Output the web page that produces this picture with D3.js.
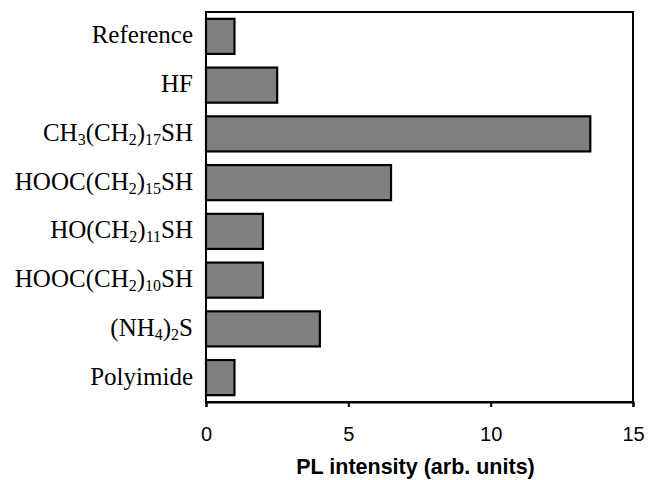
<!DOCTYPE html>
<html>
<head>
<meta charset="utf-8">
<script src="https://cdn.jsdelivr.net/npm/d3@7"></script>
<style>
  html, body { margin: 0; padding: 0; background: #fff; }
  svg { display: block; }
</style>
</head>
<body>
<div id="chart"></div>
<script>
// Categories (underscore + digits marks a subscript)
const categories = ["Reference", "HF", "CH_3(CH_2)_17SH", "HOOC(CH_2)_15SH", "HO(CH_2)_11SH", "HOOC(CH_2)_10SH", "(NH_4)_2S", "Polyimide"];
const values = [1, 2.5, 13.5, 6.5, 2, 2, 4, 1];
const xTicks = [0, 5, 10, 15];
const xTitle = "PL intensity (arb. units)";

const W = 649, H = 480;
const margin = { left: 206, right: 16, top: 12, bottom: 78 };
const iw = W - margin.left - margin.right;
const ih = H - margin.top - margin.bottom;

const svg = d3.select("#chart").append("svg").attr("width", W).attr("height", H);
const g = svg.append("g").attr("transform", `translate(${margin.left},${margin.top})`);

const x = d3.scaleLinear().domain([0, 15]).range([0, iw]);
const y = d3.scaleBand().domain(categories).range([0, ih]).paddingInner(0.28).paddingOuter(0.14);

// bars
g.selectAll("rect.bar").data(categories).enter().append("rect")
  .attr("class", "bar")
  .attr("x", x(0))
  .attr("y", d => y(d))
  .attr("width", (d, i) => x(values[i]) - x(0))
  .attr("height", y.bandwidth())
  .attr("fill", "#808080")
  .attr("stroke", "#000")
  .attr("stroke-width", 2.2);

// frame
g.append("rect").attr("x", 0).attr("y", 0).attr("width", iw).attr("height", ih)
  .attr("fill", "none").attr("stroke", "#000").attr("stroke-width", 2);

// x axis
const xAxis = g.append("g").attr("transform", `translate(0,${ih})`)
  .call(d3.axisBottom(x).tickValues(xTicks).tickSize(5).tickPadding(20).tickFormat(d3.format("d")));
xAxis.select(".domain").attr("stroke-width", 2);
xAxis.selectAll(".tick line").attr("stroke-width", 2);
xAxis.selectAll(".tick text").attr("font-family", "'Liberation Sans', Arial, sans-serif")
  .attr("font-size", 20).attr("fill", "#000");

// y labels with subscripts
function parse(s) {
  const parts = [];
  const re = /_(\d+)/g;
  let last = 0, m;
  while ((m = re.exec(s)) !== null) {
    if (m.index > last) parts.push({ t: s.slice(last, m.index), sub: false });
    parts.push({ t: m[1], sub: true });
    last = re.lastIndex;
  }
  if (last < s.length) parts.push({ t: s.slice(last), sub: false });
  return parts;
}
const SUB = 4;
const labels = g.selectAll("text.cat").data(categories).enter().append("text")
  .attr("class", "cat")
  .attr("x", -13)
  .attr("y", d => y(d) + y.bandwidth() / 2 + 7)
  .attr("text-anchor", "end")
  .attr("font-family", "'Liberation Serif', 'Times New Roman', serif")
  .attr("font-size", 25)
  .attr("fill", "#000");
labels.each(function (d) {
  const t = d3.select(this);
  let shift = 0;
  parse(d).forEach(p => {
    const target = p.sub ? SUB : 0;
    const ts = t.append("tspan").text(p.t);
    if (p.sub) ts.attr("font-size", 16);
    if (target - shift !== 0) ts.attr("dy", target - shift);
    shift = target;
  });
});

// x title
svg.append("text")
  .attr("x", margin.left + iw / 2 - 4)
  .attr("y", 474)
  .attr("text-anchor", "middle")
  .attr("font-family", "'Liberation Sans', Arial, sans-serif")
  .attr("font-weight", "bold")
  .attr("font-size", 21.5)
  .attr("fill", "#000")
  .text(xTitle);
</script>
</body>
</html>
